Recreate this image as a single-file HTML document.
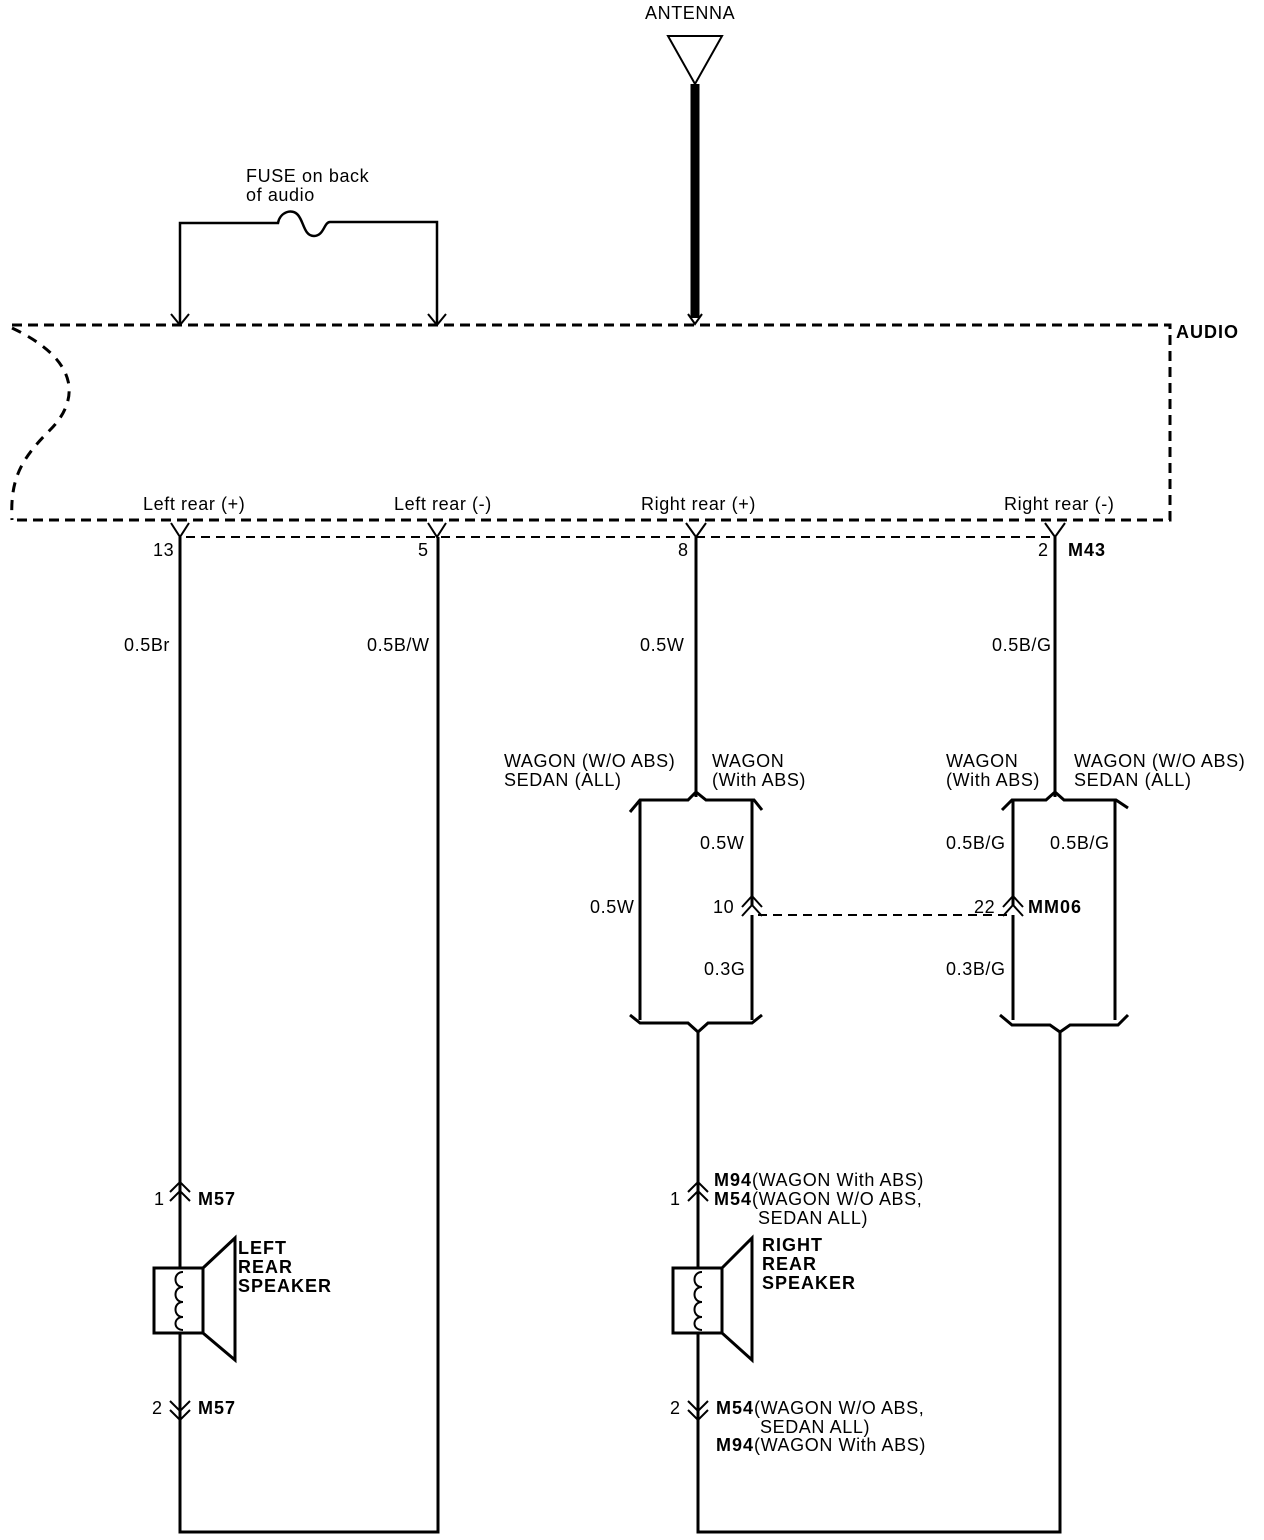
<!DOCTYPE html>
<html><head><style>
body{margin:0;background:#fff}
svg{display:block}
text{font-family:"Liberation Sans",Arial,sans-serif;font-size:18px;letter-spacing:0.6px;fill:#000}
.b{font-weight:bold;letter-spacing:1px}
</style></head><body>
<svg width="1264" height="1540" viewBox="0 0 1264 1540" xmlns="http://www.w3.org/2000/svg">
<g fill="none" stroke="#000" stroke-width="3">
<path d="M668 36 L722 36 L695 84 Z" stroke-width="2"/>
<line x1="695" y1="84" x2="695" y2="318" stroke-width="9"/>
<path d="M688 314 L695 324 L702 314" stroke-width="2"/>
<path d="M180 324 V223 H278 C280 212 292 208 298 215 C304 222 304 236 314 236 C324 236 324 222 330 222 H437 V324" stroke-width="2.5"/>
<path d="M171 314 L180 325 L189 314 M428 314 L437 325 L446 314" stroke-width="2"/>
<path d="M12 325 H1170 V520 H14" stroke-dasharray="10 6"/>
<path d="M12 328 C80 360 80 400 50 430 C20 460 10 480 12 520" stroke-dasharray="10 8"/>
<line x1="186" y1="537" x2="1056" y2="537" stroke-width="2" stroke-dasharray="9 6"/>
<path d="M171 523 L180 537 L189 523 M428 523 L437 537 L446 523 M686 523 L696 537 L706 523 M1045 523 L1055 537 L1065 523" stroke-width="2"/>
<path d="M180 537 V1532 H438 V537"/>
<path d="M696 537 V797"/>
<path d="M1055 537 V797"/>
<path d="M698 1030 V1532 H1060 V1030"/>
<path d="M630 812 L640 800 H688 L696 792 L706 800 H754 L762 810"/>
<path d="M640 800 V1020 M752 800 V905 M752 915 V1020"/>
<path d="M630 1015 L640 1023 H688 L698 1032 L708 1023 H752 L762 1015"/>
<path d="M1002 810 L1012 800 H1046 L1055 792 L1064 800 H1116 L1128 808"/>
<path d="M1013 800 V905 M1013 915 V1020 M1115 800 V1020"/>
<path d="M1000 1015 L1012 1025 H1050 L1060 1032 L1070 1025 H1118 L1128 1015"/>
<path d="M742 907 L752 896 L762 907 M742 916 L752 905 L762 916 M1003 907 L1013 896 L1023 907 M1003 916 L1013 905 L1023 916" stroke-width="2"/>
<line x1="758" y1="915" x2="1008" y2="915" stroke-width="2" stroke-dasharray="9 6"/>
<path d="M170 1192 L180 1182 L190 1192 M170 1201 L180 1191 L190 1201 M170 1401 L180 1411 L190 1401 M170 1410 L180 1420 L190 1410" stroke-width="2"/>
<path d="M688 1192 L698 1182 L708 1192 M688 1201 L698 1191 L708 1201 M688 1401 L698 1411 L708 1401 M688 1410 L698 1420 L708 1410" stroke-width="2"/>
</g>
<g fill="#fff" stroke="#000" stroke-width="3">
<rect x="154" y="1268" width="49" height="65"/>
<path d="M203 1268 L235 1238 V1360 L203 1333 Z"/>
<rect x="673" y="1268" width="49" height="65"/>
<path d="M722 1268 L752 1238 V1360 L722 1333 Z"/>
</g>
<g fill="none" stroke="#000" stroke-width="2">
<path d="M183 1272 C173 1272 173 1287 183 1287 C173 1287 173 1302 183 1302 C173 1302 173 1317 183 1317 C173 1317 173 1330 183 1330"/>
<path d="M702 1272 C692 1272 692 1287 702 1287 C692 1287 692 1302 702 1302 C692 1302 692 1317 702 1317 C692 1317 692 1330 702 1330"/>
</g>
<text x="645" y="19">ANTENNA</text>
<text x="246" y="182">FUSE on back</text>
<text x="246" y="201">of audio</text>
<text x="1176" y="338" class="b">AUDIO</text>
<text x="143" y="510">Left rear (+)</text>
<text x="394" y="510">Left rear (-)</text>
<text x="641" y="510">Right rear (+)</text>
<text x="1004" y="510">Right rear (-)</text>
<text x="153" y="556">13</text>
<text x="418" y="556">5</text>
<text x="678" y="556">8</text>
<text x="1038" y="556">2</text>
<text x="1068" y="556" class="b">M43</text>
<text x="124" y="651">0.5Br</text>
<text x="367" y="651">0.5B/W</text>
<text x="640" y="651">0.5W</text>
<text x="992" y="651">0.5B/G</text>
<text x="504" y="767">WAGON (W/O ABS)</text>
<text x="504" y="786">SEDAN (ALL)</text>
<text x="712" y="767">WAGON</text>
<text x="712" y="786">(With ABS)</text>
<text x="946" y="767">WAGON</text>
<text x="946" y="786">(With ABS)</text>
<text x="1074" y="767">WAGON (W/O ABS)</text>
<text x="1074" y="786">SEDAN (ALL)</text>
<text x="700" y="849">0.5W</text>
<text x="946" y="849">0.5B/G</text>
<text x="1050" y="849">0.5B/G</text>
<text x="590" y="913">0.5W</text>
<text x="713" y="913">10</text>
<text x="974" y="913">22</text>
<text x="1028" y="913" class="b">MM06</text>
<text x="704" y="975">0.3G</text>
<text x="946" y="975">0.3B/G</text>
<text x="154" y="1205">1</text>
<text x="198" y="1205" class="b">M57</text>
<text x="152" y="1414">2</text>
<text x="198" y="1414" class="b">M57</text>
<text x="238" y="1254" class="b">LEFT</text>
<text x="238" y="1273" class="b">REAR</text>
<text x="238" y="1292" class="b">SPEAKER</text>
<text x="762" y="1251" class="b">RIGHT</text>
<text x="762" y="1270" class="b">REAR</text>
<text x="762" y="1289" class="b">SPEAKER</text>
<text x="714" y="1186"><tspan class="b">M94</tspan>(WAGON With ABS)</text>
<text x="670" y="1205">1</text>
<text x="714" y="1205"><tspan class="b">M54</tspan>(WAGON W/O ABS,</text>
<text x="758" y="1224">SEDAN ALL)</text>
<text x="670" y="1414">2</text>
<text x="716" y="1414"><tspan class="b">M54</tspan>(WAGON W/O ABS,</text>
<text x="760" y="1433">SEDAN ALL)</text>
<text x="716" y="1451"><tspan class="b">M94</tspan>(WAGON With ABS)</text>
</svg>
</body></html>
